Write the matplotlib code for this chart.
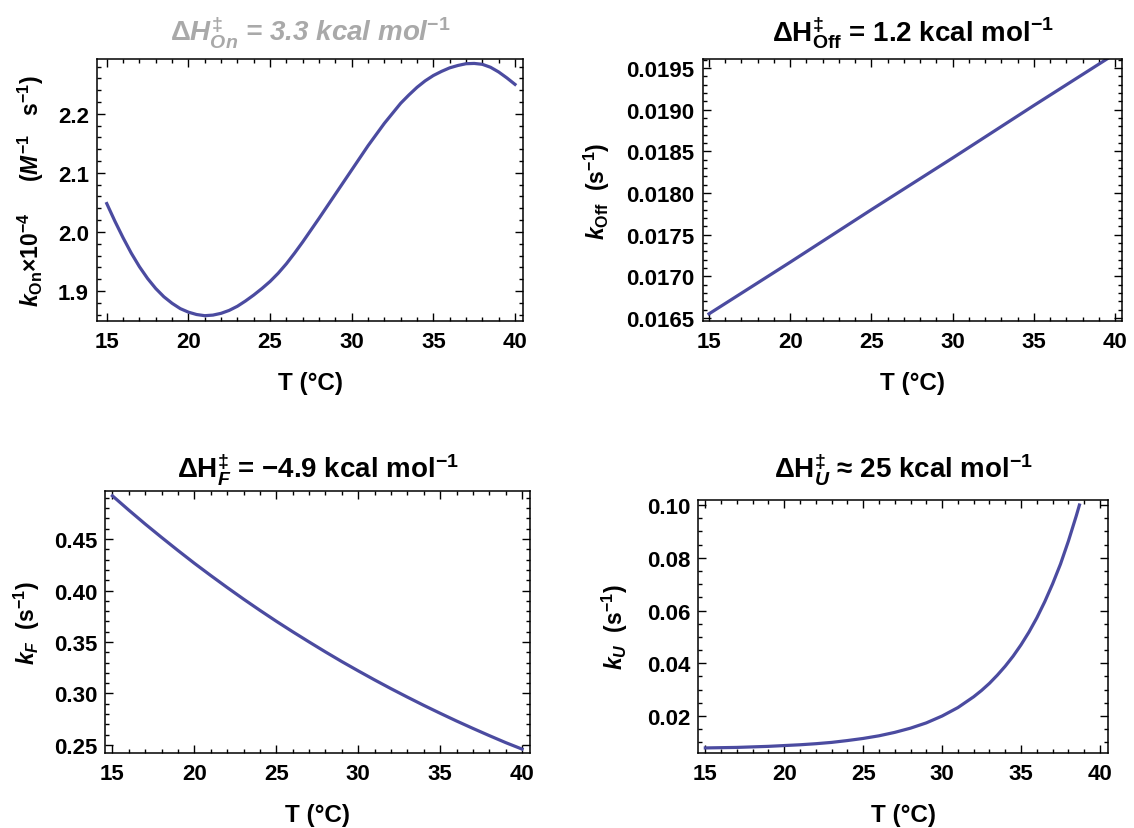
import numpy as np
import matplotlib
matplotlib.use('Agg')
import matplotlib.pyplot as plt
from matplotlib.ticker import MultipleLocator, FormatStrFormatter

plt.rcParams['font.family'] = ['Liberation Sans', 'DejaVu Sans']
plt.rcParams['font.weight'] = 'bold'
plt.rcParams['mathtext.fontset'] = 'custom'
plt.rcParams['mathtext.rm'] = 'Liberation Sans:bold'
plt.rcParams['mathtext.it'] = 'Liberation Sans:italic:bold'
plt.rcParams['mathtext.bf'] = 'Liberation Sans:bold'

# k_on x 1e-4 (M^-1 s^-1) vs T
T_on = [15, 15.5, 16, 16.5, 17, 17.5, 18, 18.5, 19, 19.5, 20, 20.5, 21, 21.5,
        22, 22.5, 23, 23.5, 24, 24.5, 25, 25.5, 26, 26.5, 27, 28, 29, 30, 31,
        32, 33, 33.5, 34, 34.5, 35, 35.5, 36, 36.5, 37, 37.5, 38, 38.5, 39,
        39.5, 40]
k_on = [2.048, 2.018, 1.990, 1.964, 1.941, 1.921, 1.904, 1.890, 1.879, 1.870,
        1.864, 1.860, 1.858, 1.859, 1.862, 1.867, 1.874, 1.883, 1.893, 1.904,
        1.916, 1.930, 1.946, 1.964, 1.983, 2.023, 2.064, 2.105, 2.146, 2.184,
        2.218, 2.232, 2.245, 2.256, 2.265, 2.272, 2.278, 2.282, 2.285, 2.2855,
        2.284, 2.279, 2.271, 2.261, 2.250]

# k_off (s^-1)
T_off = [15, 20, 25, 30, 35, 40]
k_off = [0.01655, 0.01717, 0.01780, 0.01842, 0.01905, 0.01967]

# k_F (s^-1)
T_f = [15, 16, 17, 18, 19, 20, 21, 22, 23, 24, 25, 26, 27, 28, 29, 30,
       31, 32, 33, 34, 35, 36, 37, 38, 39, 40]
k_f = [0.4920, 0.4781, 0.4646, 0.4516, 0.4389, 0.4265, 0.4146, 0.4030, 0.3917,
       0.3808, 0.3702, 0.3600, 0.3501, 0.3404, 0.3310, 0.3220, 0.3132, 0.3047,
       0.2965, 0.2885, 0.2808, 0.2733, 0.2661, 0.2591, 0.2523, 0.2460]

# k_U (s^-1)
T_u = [15, 16, 17, 18, 19, 20, 21, 22, 23, 24, 25, 26, 27, 28, 29, 30, 31,
       32, 32.5, 33, 33.5, 34, 34.5, 35, 35.5, 36, 36.5, 37, 37.5, 38, 38.5, 38.7]
k_u = [0.0079, 0.0080, 0.0081, 0.0083, 0.0085, 0.0088, 0.0091, 0.0095, 0.0100,
       0.0107, 0.0115, 0.0125, 0.0138, 0.0154, 0.0174, 0.0200, 0.0232, 0.0273,
       0.0297, 0.0324, 0.0355, 0.0389, 0.0427, 0.0470, 0.0518, 0.0572, 0.0633,
       0.0701, 0.0776, 0.0863, 0.0959, 0.1000]

line_col = '#4b4ba0'
W, H = 1134, 829

fig = plt.figure(figsize=(W / 100, H / 100), dpi=100)

panels = [
    dict(T=T_on, k=k_on, box=(97.3, 523, 60, 322), xlim=(14.42, 40.49), ylim=(1.849, 2.293),
         major=0.1, minor=0.02, fmt='%.1f',
         title=r'$\Delta H^{\ddagger}_{On}$ = 3.3 kcal mol$^{-1}$', tcol='#a9a9a9', tstyle='italic',
         ylabel=r'$k_{\mathrm{On}}$×10$^{-4}$     ($M^{-1}$   s$^{-1}$)', ylx=31, tly=33),
    dict(T=T_off, k=k_off, box=(703, 1122, 60, 322), xlim=(14.63, 40.43), ylim=(0.016464, 0.019608),
         major=0.0005, minor=0.0001, fmt='%.4f',
         title=r'$\Delta$H$^{\ddagger}_{\mathrm{Off}}$ = 1.2 kcal mol$^{-1}$', tcol='black', tstyle='normal',
         ylabel=r'$k_{\mathrm{Off}}$  (s$^{-1}$)', ylx=597, tly=33),
    dict(T=T_f, k=k_f, box=(105.4, 530.4, 492, 754), xlim=(14.57, 40.51), ylim=(0.2422, 0.4967),
         major=0.05, minor=0.01, fmt='%.2f',
         title=r'$\Delta$H$^{\ddagger}_{F}$ = −4.9 kcal mol$^{-1}$', tcol='black', tstyle='normal',
         ylabel=r'$k_{F}$  (s$^{-1}$)', ylx=27, tly=470),
    dict(T=T_u, k=k_u, box=(698.4, 1108, 501, 754), xlim=(14.56, 40.51), ylim=(0.00598, 0.1019),
         major=0.02, minor=0.005, fmt='%.2f',
         title=r'$\Delta$H$^{\ddagger}_{U}$ ≈ 25 kcal mol$^{-1}$', tcol='black', tstyle='normal',
         ylabel=r'$k_{U}$  (s$^{-1}$)', ylx=615, tly=470),
]

for p in panels:
    x0, x1, y0, y1 = p['box']
    ax = fig.add_axes([x0 / W, 1 - y1 / H, (x1 - x0) / W, (y1 - y0) / H])
    ax.plot(p['T'], p['k'], color=line_col, lw=2.3, solid_joinstyle='round')
    ax.set_xlim(*p['xlim'])
    ax.set_ylim(*p['ylim'])
    ax.xaxis.set_major_locator(MultipleLocator(5))
    ax.xaxis.set_minor_locator(MultipleLocator(1))
    ax.yaxis.set_major_locator(MultipleLocator(p['major']))
    ax.yaxis.set_minor_locator(MultipleLocator(p['minor']))
    ax.yaxis.set_major_formatter(FormatStrFormatter(p['fmt']))
    ax.xaxis.set_major_formatter(FormatStrFormatter('%d'))
    ax.tick_params(which='both', direction='in', top=True, right=True, width=1.0)
    ax.tick_params(which='major', length=5.5, labelsize=16)
    ax.tick_params(axis='x', which='major', pad=7)
    ax.tick_params(axis='y', which='major', pad=6)
    ax.tick_params(which='minor', length=3)
    for s in ax.spines.values():
        s.set_linewidth(1.1)
    for lab in ax.get_xticklabels() + ax.get_yticklabels():
        lab.set_fontweight('bold')
    hpx = y1 - y0
    wpx = x1 - x0
    ax.set_xlabel('T (°C)', fontsize=17.5, fontweight='bold', va='center')
    ax.xaxis.set_label_coords(0.5, -62 / hpx)
    ax.set_ylabel(p['ylabel'], fontsize=16.5, fontweight='bold', va='center')
    ax.yaxis.set_label_coords((p['ylx'] - x0) / wpx, 0.5)
    ax.text(0.5, 1 + (y0 - p['tly']) / hpx, p['title'], transform=ax.transAxes,
            ha='center', va='center', fontsize=20, fontweight='bold',
            color=p['tcol'], style=p['tstyle'])

fig.savefig('out.png', dpi=100)
